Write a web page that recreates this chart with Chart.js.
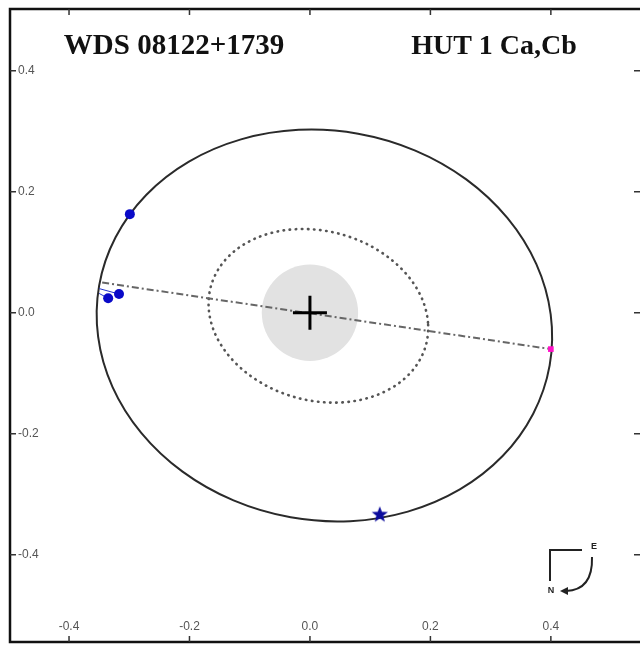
<!DOCTYPE html>
<html>
<head>
<meta charset="utf-8">
<script src="https://cdn.jsdelivr.net/npm/chart.js@4.4.1/dist/chart.umd.min.js"></script>
<style>
body{margin:0;background:#fff}
canvas{display:block}
</style>
</head>
<body>
<canvas id="grafOrbita" width="640" height="646"></canvas>
<script>
// ejes
let tickValues = [-0.4,-0.2,0,0.2,0.4]
let tickLabels = ['-0.4','-0.2','0.0','0.2','0.4']

// orbita aparente; los tres ultimos repiten el inicio para cerrar la curva
let orbitX = [0.080,-0.0187,-0.1145,-0.2009,-0.2719,-0.3227,-0.350,-0.3517,-0.3279,-0.2801,-0.2115,-0.1269,-0.032,0.0667,0.1625,0.2489,0.3199,0.3707,0.398,0.3997,0.3759,0.3281,0.2595,0.1749,0.080,-0.0187,-0.1145]
let orbitY = [0.296,0.3023,0.2865,0.2498,0.1947,0.1247,0.045,-0.0393,-0.1223,-0.1984,-0.2625,-0.3101,-0.338,-0.3443,-0.3285,-0.2918,-0.2367,-0.1667,-0.087,-0.0027,0.0803,0.1564,0.2205,0.2681,0.296,0.3023,0.2865]

// orbita punteada interior
let innerX = [0.1927,0.196,0.187,0.1661,0.1348,0.0953,0.0503,0.0029,-0.044,-0.0867,-0.1226,-0.1492,-0.1647,-0.168,-0.159,-0.1381,-0.1068,-0.0673,-0.0223,0.0251,0.072,0.1147,0.1506,0.1772,0.1927,0.196,0.187]
let innerY = [-0.0529,-0.0163,0.0211,0.0567,0.0881,0.1132,0.1302,0.138,0.1361,0.1245,0.1041,0.0763,0.0429,0.0063,-0.0311,-0.0667,-0.0981,-0.1232,-0.1402,-0.148,-0.1461,-0.1345,-0.1141,-0.0863,-0.0529,-0.0163,0.0211]

// linea de nodos
let nodeX = [-0.345,0.400]
let nodeY = [0.050,-0.060]

// observaciones
let obsX = [-0.299,-0.335,-0.317]
let obsY = [0.163,0.024,0.031]
let orbObsX = [-0.302,-0.350,-0.350]
let orbObsY = [0.158,0.032,0.040]

let starX = [0.116]
let starY = [-0.333]
let periX = [0.400]
let periY = [-0.060]
let primX = [0]
let primY = [0]
let primRadius = 0.08

function pares(xs,ys){
    let out = []
    for(var i = 0; i < xs.length; i++)
    {
        out.push({x:xs[i],y:ys[i]})
    }
    return out
}

// oculta el primer y el ultimo tramo, que solo sirven para que el cierre quede suave
function tramoCerrado(n){
    return (c)=>{
        if(c.p0DataIndex == 0 || c.p1DataIndex == n - 1) return 'rgba(0,0,0,0)'
        return undefined
    }
}

let residuos = []
for(var i = 0; i < obsX.length; i++)
{
    residuos.push({
        data:pares([obsX[i],orbObsX[i]],[obsY[i],orbObsY[i]]),
        showLine:true,
        borderColor:'#2233cc',
        borderWidth:1,
        pointRadius:0,
        order:6,
    })
}

let estrella = document.createElement('canvas')
estrella.width = 18
estrella.height = 18
let sctx = estrella.getContext('2d')
sctx.beginPath()
for(var k = 0; k < 10; k++)
{
    let r = k % 2 == 0 ? 8.5 : 3.6
    let a = -Math.PI/2 + k*Math.PI/5
    sctx.lineTo(9 + r*Math.cos(a), 9.5 + r*Math.sin(a))
}
sctx.closePath()
sctx.fillStyle = '#0b0b9c'
sctx.fill()

let marco = {
    id:'marco',
    afterDraw(chart){
        let ctx = chart.ctx
        let area = chart.chartArea
        let sx = chart.scales.x
        let sy = chart.scales.y
        ctx.save()
        ctx.strokeStyle = '#111'
        ctx.lineWidth = 2.5
        ctx.strokeRect(area.left, area.top, area.right - area.left + 2, area.bottom - area.top)

        ctx.lineWidth = 1.5
        ctx.strokeStyle = '#333'
        ctx.fillStyle = '#555'
        ctx.font = '12px "Liberation Sans", Arial, sans-serif'
        for(var i = 0; i < tickValues.length; i++)
        {
            let px = sx.getPixelForValue(tickValues[i])
            let py = sy.getPixelForValue(tickValues[i])
            ctx.beginPath()
            ctx.moveTo(px, area.bottom); ctx.lineTo(px, area.bottom - 6)
            ctx.moveTo(px, area.top); ctx.lineTo(px, area.top + 6)
            ctx.moveTo(area.left, py); ctx.lineTo(area.left + 6, py)
            ctx.moveTo(area.right, py); ctx.lineTo(area.right - 6, py)
            ctx.stroke()
            ctx.textAlign = 'center'
            ctx.textBaseline = 'middle'
            ctx.fillText(tickLabels[i], px, area.bottom - 15)
            ctx.textAlign = 'left'
            ctx.fillText(tickLabels[i], area.left + 8, py)
        }

        ctx.fillStyle = '#111'
        ctx.font = 'bold 29px "Liberation Serif", "Times New Roman", serif'
        ctx.textAlign = 'center'
        ctx.textBaseline = 'middle'
        ctx.fillText('WDS 08122+1739', 174, 47)
        ctx.font = 'bold 28px "Liberation Serif", "Times New Roman", serif'
        ctx.fillText('HUT 1 Ca,Cb', 494, 47)

        // brujula
        ctx.strokeStyle = '#222'
        ctx.lineWidth = 2
        ctx.beginPath()
        ctx.moveTo(582, 550); ctx.lineTo(550, 550); ctx.lineTo(550, 581)
        ctx.stroke()
        ctx.beginPath()
        ctx.moveTo(592, 557)
        ctx.quadraticCurveTo(593, 590, 566, 591)
        ctx.stroke()
        ctx.beginPath()
        ctx.moveTo(560, 591); ctx.lineTo(568, 587); ctx.lineTo(568, 595)
        ctx.closePath()
        ctx.fillStyle = '#222'
        ctx.fill()
        ctx.font = 'bold 9px "Liberation Sans", Arial, sans-serif'
        ctx.fillText('E', 594, 547)
        ctx.fillText('N', 551, 591)
        ctx.restore()
    }
}

let grafOrbita = document.getElementById('grafOrbita')
let tablaOrbita = new Chart(grafOrbita,{
    type:'scatter',
    plugins:[marco],
    options:{
        responsive:false,
        animation:false,
        events:[],
        layout:{
            autoPadding:false,
            padding:{left:10,top:9,right:0,bottom:4},
        },
        plugins:{
            legend:{display:false},
            tooltip:{enabled:false},
        },
        scales:{
            x:{
                display:false,
                min:-0.498,
                max:0.548,
            },
            y:{
                display:false,
                min:-0.544,
                max:0.502,
            },
        },
    },
    data:{
        datasets:[{
            data:pares(primX,primY),
            backgroundColor:'#e2e2e2',
            borderWidth:0,
            pointRadius:(c)=>{
                let s = c.chart.scales.x
                return s.getPixelForValue(primRadius) - s.getPixelForValue(0)
            },
            order:10,
        },
        {
            data:pares(innerX,innerY),
            showLine:true,
            tension:0.33,
            borderColor:'#555',
            borderWidth:2.6,
            borderDash:[0.5,5.6],
            borderCapStyle:'round',
            pointRadius:0,
            segment:{borderColor:tramoCerrado(innerX.length)},
            order:9,
        },
        {
            data:pares(orbitX,orbitY),
            showLine:true,
            tension:0.33,
            borderColor:'#2a2a2a',
            borderWidth:2,
            pointRadius:0,
            segment:{borderColor:tramoCerrado(orbitX.length)},
            order:8,
        },
        {
            data:pares(nodeX,nodeY),
            showLine:true,
            borderColor:'#666',
            borderWidth:2,
            borderDash:[7,3,2,3],
            pointRadius:0,
            order:7,
        },
        ...residuos,
        {
            data:pares(obsX,obsY),
            backgroundColor:'#0a0ac8',
            borderWidth:0,
            pointRadius:5,
            order:5,
        },
        {
            data:pares(starX,starY),
            pointStyle:estrella,
            order:4,
        },
        {
            data:pares(periX,periY),
            pointStyle:'rect',
            backgroundColor:'#ff10c8',
            borderWidth:0,
            pointRadius:4,
            order:3,
        },
        {
            data:pares(primX,primY),
            pointStyle:'cross',
            borderColor:'#000',
            borderWidth:3,
            pointRadius:17,
            order:1,
        }]
    }
})
</script>
</body>
</html>
